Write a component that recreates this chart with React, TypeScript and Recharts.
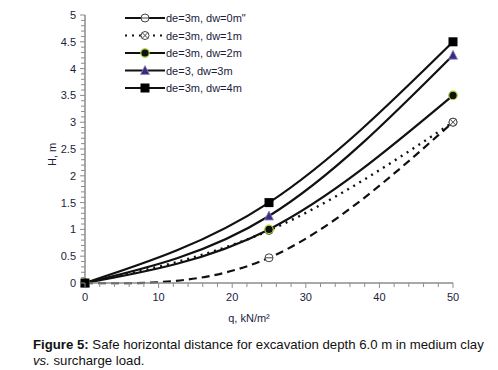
import { LineChart, Line, XAxis, YAxis } from "recharts";

// surcharge load q (kN/m²) and safe distance H (m) for each water depth
const Q = [0, 25, 50];
const H_DW0 = [0, 0.47, 3];
const H_DW1 = [0, 0.98, 3];
const H_DW2 = [0, 1, 3.5];
const H_DW3 = [0, 1.25, 4.25];
const H_DW4 = [0, 1.5, 4.5];

const X_TICKS = [0, 2, 4, 6, 8, 10, 12, 14, 16, 18, 20, 22, 24, 26, 28, 30, 32, 34, 36, 38, 40, 42, 44, 46, 48, 50];
const X_LABELS = [0, 10, 20, 30, 40, 50];
const Y_TICKS = Array.from({ length: 51 }, (_, i) => i / 10);
const Y_LABELS = ["0", "0.5", "1", "1.5", "2", "2.5", "3", "3.5", "4", "4.5", "5"];

const data = Q.map((q, i) => ({
  q,
  dw0: H_DW0[i],
  dw1: H_DW1[i],
  dw2: H_DW2[i],
  dw3: H_DW3[i],
  dw4: H_DW4[i],
}));

const AXIS = "#8c8c8c";
const TXT = "#1c1c3c";
const LINE = "#111";
const FONT = "'Liberation Sans', Arial, sans-serif";

function Marker({ kind, cx, cy }: { kind: string; cx: number; cy: number }) {
  if (kind === "dw0")
    return (
      <g>
        <circle cx={cx} cy={cy} r={4} fill="#fff" stroke="#444" strokeWidth={1} />
        <line x1={cx - 4} y1={cy} x2={cx + 4} y2={cy} stroke="#444" strokeWidth={1} />
      </g>
    );
  if (kind === "dw1")
    return (
      <g>
        <circle cx={cx} cy={cy} r={4} fill="#fff" stroke="#444" strokeWidth={1} />
        <line x1={cx - 2.8} y1={cy - 2.8} x2={cx + 2.8} y2={cy + 2.8} stroke="#444" strokeWidth={1} />
        <line x1={cx - 2.8} y1={cy + 2.8} x2={cx + 2.8} y2={cy - 2.8} stroke="#444" strokeWidth={1} />
      </g>
    );
  if (kind === "dw2")
    return <circle cx={cx} cy={cy} r={4.2} fill="#111" stroke="#a6cf3a" strokeWidth={1.2} />;
  if (kind === "dw3")
    return (
      <polygon
        points={`${cx},${cy - 5} ${cx - 4.5},${cy + 4} ${cx + 4.5},${cy + 4}`}
        fill="#3a2d7a"
        stroke="#8f86c6"
        strokeWidth={0.8}
      />
    );
  return <rect x={cx - 4.5} y={cy - 4.5} width={9} height={9} fill="#000" />;
}

const dotFor = (kind: string) => (p: any) => (
  <Marker key={`${kind}-${p.index}`} kind={kind} cx={p.cx} cy={p.cy} />
);

function YTick(props: any) {
  const { x, y, payload } = props;
  const v = payload.value as number;
  const major = Math.round(v * 10) % 5 === 0;
  const label = Y_LABELS[Math.round(v * 2)];
  return (
    <g>
      <line x1={x} y1={y} x2={x - (major ? 5 : 4)} y2={y} stroke={AXIS} strokeWidth={1} />
      {major && (
        <text x={x - 9} y={y} dy={4} textAnchor="end" fontSize={11} fill={TXT} fontFamily={FONT}>
          {label}
        </text>
      )}
    </g>
  );
}

function XTick(props: any) {
  const { x, y, payload } = props;
  const v = payload.value as number;
  const major = X_LABELS.includes(v);
  return (
    <g>
      <line x1={x} y1={y} x2={x} y2={y + (major ? 5 : 4)} stroke={AXIS} strokeWidth={1} />
      {major && (
        <text x={x} y={y + 18} textAnchor="middle" fontSize={11} fill={TXT} fontFamily={FONT}>
          {v}
        </text>
      )}
    </g>
  );
}

const LEGEND = [
  { kind: "dw0", label: 'de=3m, dw=0m"', dash: undefined },
  { kind: "dw1", label: "de=3m, dw=1m", dash: "2 5" },
  { kind: "dw2", label: "de=3m, dw=2m", dash: undefined },
  { kind: "dw3", label: "de=3, dw=3m", dash: undefined },
  { kind: "dw4", label: "de=3m, dw=4m", dash: undefined },
];

export default function App() {
  return (
    <div style={{ position: "absolute", left: 0, top: 0, width: 498, height: 370, background: "#fff" }}>
      <LineChart width={498} height={370} data={data} margin={{ top: 15, right: 45, bottom: 57, left: 45 }}>
        <XAxis
          dataKey="q"
          type="number"
          domain={[0, 50]}
          ticks={X_TICKS}
          interval={0}
          tick={<XTick />}
          tickLine={false}
          tickSize={0}
          tickMargin={0}
          height={30}
          axisLine={{ stroke: AXIS, strokeWidth: 1.5 }}
        />
        <YAxis
          type="number"
          domain={[0, 5]}
          ticks={Y_TICKS}
          interval={0}
          tick={<YTick />}
          tickLine={false}
          tickSize={0}
          tickMargin={0}
          width={40}
          axisLine={{ stroke: AXIS, strokeWidth: 1.5 }}
        />
        <Line type="natural" dataKey="dw0" stroke={LINE} strokeWidth={2.2} strokeDasharray="8 5" dot={dotFor("dw0")} isAnimationActive={false} />
        <Line type="natural" dataKey="dw1" stroke={LINE} strokeWidth={2.4} strokeDasharray="2 5" dot={dotFor("dw1")} isAnimationActive={false} />
        <Line type="natural" dataKey="dw2" stroke={LINE} strokeWidth={2.2} dot={dotFor("dw2")} isAnimationActive={false} />
        <Line type="natural" dataKey="dw3" stroke={LINE} strokeWidth={2.2} dot={dotFor("dw3")} isAnimationActive={false} />
        <Line type="natural" dataKey="dw4" stroke={LINE} strokeWidth={2.2} dot={dotFor("dw4")} isAnimationActive={false} />
      </LineChart>

      <svg width={200} height={100} style={{ position: "absolute", left: 118, top: 8 }}>
        {LEGEND.map((e, i) => {
          const cy = 10 + i * 17.5;
          return (
            <g key={e.kind}>
              <line x1={7} y1={cy} x2={47} y2={cy} stroke={LINE} strokeWidth={2} strokeDasharray={e.dash} />
              <Marker kind={e.kind} cx={27} cy={cy} />
              <text x={48} y={cy + 4} fontSize={11} fill={TXT} fontFamily={FONT}>
                {e.label}
              </text>
            </g>
          );
        })}
      </svg>

      <div
        style={{
          position: "absolute",
          left: 0,
          width: 498,
          top: 312,
          textAlign: "center",
          fontFamily: FONT,
          fontSize: 11,
          color: TXT,
        }}
      >
        q, kN/m²
      </div>
      <div
        style={{
          position: "absolute",
          left: 46,
          top: 166,
          transform: "rotate(-90deg)",
          transformOrigin: "left top",
          fontFamily: FONT,
          fontSize: 11,
          lineHeight: "13px",
          whiteSpace: "nowrap",
          color: TXT,
        }}
      >
        H, m
      </div>

      <div
        style={{
          position: "absolute",
          left: 33,
          top: 337,
          width: 470,
          fontFamily: FONT,
          fontSize: 13.2,
          lineHeight: "16px",
          color: "#111",
        }}
      >
        <b>Figure 5:</b> Safe horizontal distance for excavation depth 6.0 m in medium clay
        <br />
        <i>vs.</i> surcharge load.
      </div>
    </div>
  );
}
